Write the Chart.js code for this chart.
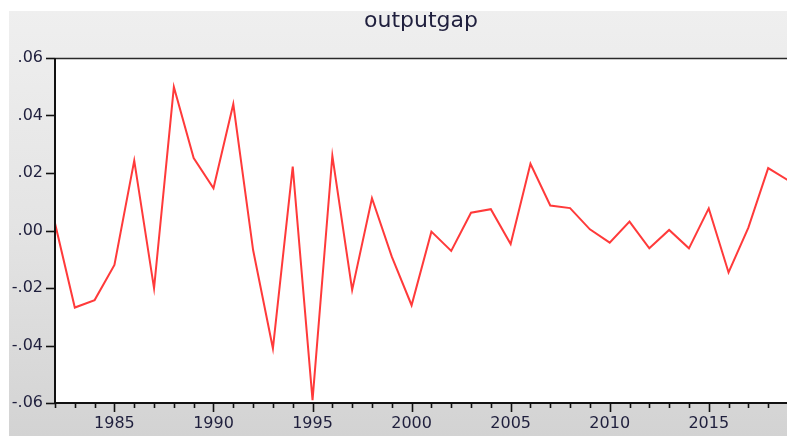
<!DOCTYPE html>
<html>
<head>
<meta charset="utf-8">
<title>outputgap</title>
<script src="https://cdn.jsdelivr.net/npm/chart.js@4.4.1/dist/chart.umd.min.js"></script>
<style>
  html, body { margin: 0; padding: 0; background: #ffffff; }
  #wrap { width: 787px; height: 436px; }
</style>
</head>
<body>
<div id="wrap"><canvas id="c" width="787" height="436"></canvas></div>
<script>
// Annual output gap series
const years = [
  1982, 1983, 1984, 1985, 1986, 1987, 1988, 1989, 1990, 1991,
  1992, 1993, 1994, 1995, 1996, 1997, 1998, 1999, 2000, 2001,
  2002, 2003, 2004, 2005, 2006, 2007, 2008, 2009, 2010, 2011,
  2012, 2013, 2014, 2015, 2016, 2017, 2018, 2019
];
const outputgap = [
  0.0025, -0.0268, -0.0242, -0.0120, 0.0243, -0.0201, 0.0499, 0.0252, 0.0147, 0.0440,
  -0.0068, -0.0410, 0.0222, -0.0590, 0.0260, -0.0207, 0.0112, -0.0091, -0.0260, -0.0004,
  -0.0071, 0.0062, 0.0074, -0.0047, 0.0232, 0.0087, 0.0078, 0.0004, -0.0042, 0.0031,
  -0.0062, 0.0002, -0.0062, 0.0077, -0.0146, 0.0010, 0.0217, 0.0175
];
const seriesName = 'outputgap';
const yTickValues = [-0.06, -0.04, -0.02, 0.00, 0.02, 0.04, 0.06];
const xLabelEvery = 5;

// EViews-style number format: ".06", "-.02", ".00"
function fmtY(v) {
  const s = Math.abs(v).toFixed(2).replace(/^0/, '');
  return (v < -1e-9 ? '-' : '') + s;
}

const textColor = '#1f1f3d';

// Grey frame behind the plot, white plot area, top border and tick marks
const framePlugin = {
  id: 'frame',
  beforeDraw(chart) {
    const { ctx, chartArea: a, width, height } = chart;
    ctx.save();
    ctx.fillStyle = '#ffffff';
    ctx.fillRect(0, 0, width, height);
    const g = ctx.createLinearGradient(0, 11, 0, height);
    g.addColorStop(0, '#efefef');
    g.addColorStop(0.5, '#e4e4e4');
    g.addColorStop(1, '#d3d3d3');
    ctx.fillStyle = g;
    ctx.fillRect(9, 11, width - 9, height - 11);
    ctx.fillStyle = '#ffffff';
    ctx.fillRect(a.left, a.top, a.right - a.left, a.bottom - a.top);
    ctx.restore();
  },
  afterDraw(chart) {
    const { ctx, chartArea: a } = chart;
    const xs = chart.scales.x, ys = chart.scales.y;
    ctx.save();
    ctx.strokeStyle = '#2a2a2a';
    ctx.lineWidth = 1.5;
    // top border of the plot
    ctx.beginPath();
    ctx.moveTo(a.left, a.top + 0.5);
    ctx.lineTo(a.right, a.top + 0.5);
    ctx.stroke();
    ctx.lineWidth = 2;
    ctx.strokeStyle = '#111111';
    // axes
    ctx.beginPath();
    ctx.moveTo(a.left, a.top);
    ctx.lineTo(a.left, a.bottom);
    ctx.lineTo(a.right, a.bottom);
    ctx.stroke();
    // x tick marks: yearly minor, longer every five years
    ctx.lineWidth = 1.6;
    xs.ticks.forEach(t => {
      const px = Math.round(xs.getPixelForValue(t.value)) + 0.5;
      const len = t.value % xLabelEvery === 0 ? 9 : 5;
      ctx.beginPath();
      ctx.moveTo(px, a.bottom);
      ctx.lineTo(px, a.bottom + len);
      ctx.stroke();
    });
    // y tick marks
    ys.ticks.forEach(t => {
      const py = Math.round(ys.getPixelForValue(t.value)) + 0.5;
      ctx.beginPath();
      ctx.moveTo(a.left - 9, py);
      ctx.lineTo(a.left, py);
      ctx.stroke();
    });
    ctx.restore();
  }
};

new Chart(document.getElementById('c'), {
  type: 'line',
  data: {
    datasets: [{
      label: seriesName,
      data: years.map((yr, i) => ({ x: yr, y: outputgap[i] })),
      borderColor: '#ff3a3a',
      borderWidth: 2,
      pointRadius: 0,
      tension: 0,
      fill: false
    }]
  },
  options: {
    responsive: false,
    animation: false,
    devicePixelRatio: 1,
    layout: { padding: { left: 0, right: 0, top: 0, bottom: 0 } },
    plugins: {
      legend: { display: false },
      tooltip: { enabled: false },
      title: {
        display: true,
        fullSize: false,
        text: seriesName,
        color: textColor,
        font: { family: 'DejaVu Sans', size: 22, weight: 'normal' },
        padding: { top: 8, bottom: 23.6 }
      }
    },
    scales: {
      x: {
        type: 'linear',
        min: years[0],
        max: 2018.95,
        afterBuildTicks(scale) {
          scale.ticks = years.filter(y => y <= scale.max).map(y => ({ value: y }));
        },
        afterFit(scale) { scale.height = 33; },
        grid: { display: false, drawTicks: false },
        border: { display: false },
        ticks: {
          autoSkip: false,
          maxRotation: 0,
          padding: 11,
          color: textColor,
          font: { family: 'DejaVu Sans', size: 16 },
          callback: v => (v % xLabelEvery === 0 ? String(v) : '')
        }
      },
      y: {
        min: yTickValues[0],
        max: yTickValues[yTickValues.length - 1],
        afterBuildTicks(scale) {
          scale.ticks = yTickValues.map(v => ({ value: v }));
        },
        afterFit(scale) { scale.width = 55; },
        grid: { display: false, drawTicks: false },
        border: { display: false },
        ticks: {
          padding: 12,
          color: textColor,
          font: { family: 'DejaVu Sans', size: 16 },
          callback: v => fmtY(v)
        }
      }
    }
  },
  plugins: [framePlugin]
});
</script>
</body>
</html>
